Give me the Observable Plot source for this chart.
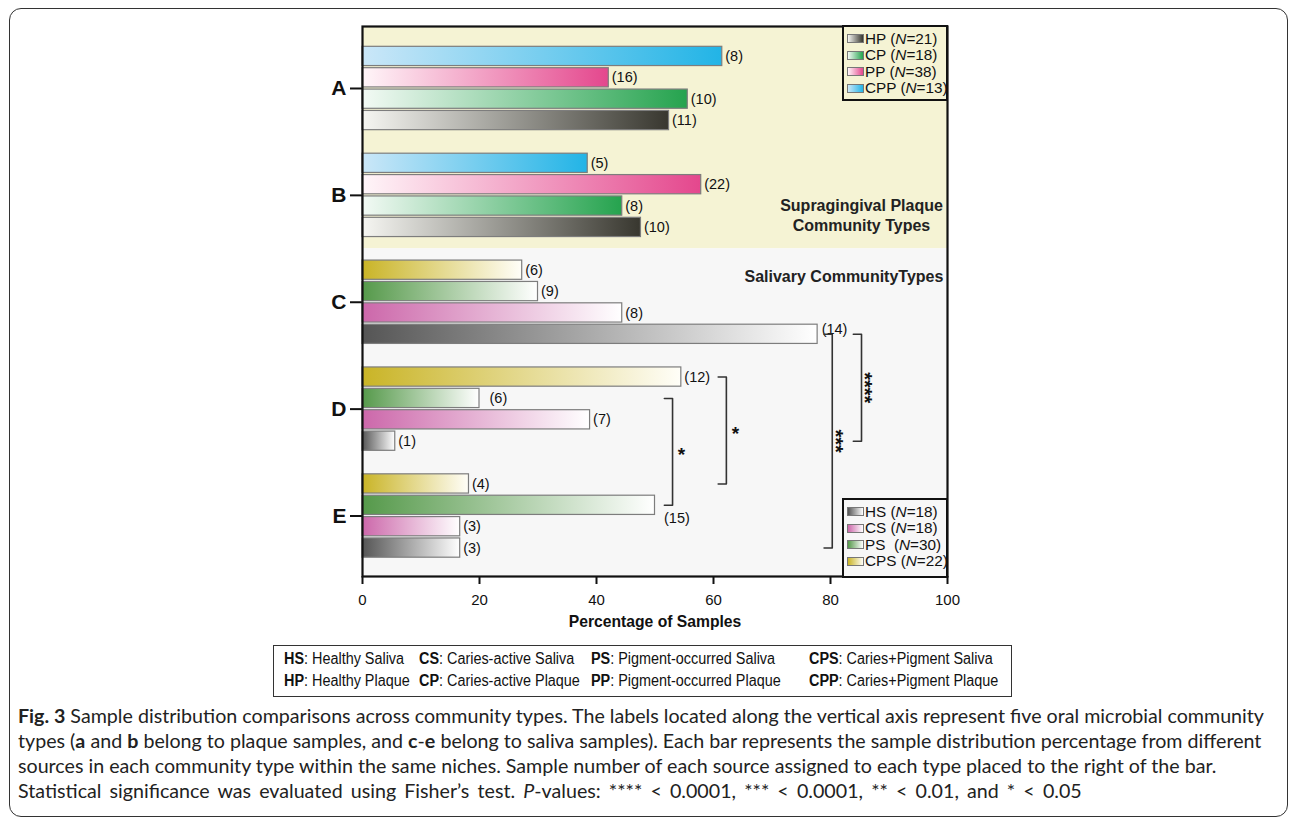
<!DOCTYPE html>
<html><head><meta charset="utf-8">
<script src="https://cdn.jsdelivr.net/npm/d3@7"></script>
<script src="https://cdn.jsdelivr.net/npm/@observablehq/plot@0.6"></script>
<style>
html,body{margin:0;padding:0;background:#fff;}
#page{position:relative;width:1290px;height:820px;overflow:hidden;font-family:"Liberation Sans",Arial,sans-serif;color:#111;}
#outer{position:absolute;left:9px;top:8px;width:1279px;height:809px;border:1.5px solid #333;border-radius:12px;box-sizing:border-box;}
#chart{position:absolute;left:0;top:0;}
.leg{position:absolute;box-sizing:border-box;border:2px solid #111;}
.leg .item{position:absolute;left:3px;height:16px;line-height:16px;font-size:15.3px;white-space:nowrap;}
.leg .sw{display:inline-block;width:17px;height:9px;border:1px solid #777;box-sizing:border-box;vertical-align:middle;margin-right:1px;position:relative;top:-1px;}
#abbr{position:absolute;left:273px;top:645px;width:739px;height:52px;border:1.5px solid #333;box-sizing:border-box;}
#abbr span.c{position:absolute;white-space:nowrap;font-family:"Liberation Sans",Arial,sans-serif;font-size:16px;line-height:20px;transform:scaleX(0.9);transform-origin:0 50%;}
#caption{position:absolute;left:18px;top:703px;font-family:Lato,"Open Sans",sans-serif;font-size:19px;line-height:25px;color:#222;transform-origin:0 0;}
#caption div{white-space:nowrap;}
#caption span{display:inline-block;}
#caption div.last span{word-spacing:3px;}
</style></head><body><div id="page">
<div id="outer"></div>
<div id="chart"></div>
<div id="abbr"></div>
<div id="caption"></div>
</div>
<script>
// ---------- data ----------
const groups = ["A", "B", "C", "D", "E"];
const plaqueSeries = ["CPP", "PP", "CP", "HP"];   // top-to-bottom order in groups A, B
const salivaSeries = ["CPS", "PS", "CS", "HS"];   // top-to-bottom order in groups C, D, E
const plaqueLegend = ["HP", "CP", "PP", "CPP"];
const plaqueN = [21, 18, 38, 13];
const salivaLegend = ["HS", "CS", "PS", "CPS"];
const salivaN = [18, 18, 30, 22];
// percentage of samples (top-to-bottom) and sample counts
const pctA = [61.5, 42.1, 55.6, 52.4];
const cntA = [8, 16, 10, 11];
const pctB = [38.5, 57.9, 44.4, 47.6];
const cntB = [5, 22, 8, 10];
const pctC = [27.3, 30.0, 44.4, 77.8];
const cntC = [6, 9, 8, 14];
const pctD = [54.5, 20.0, 38.9, 5.6];
const cntD = [12, 6, 7, 1];
const pctE = [18.2, 50.0, 16.7, 16.7];
const cntE = [4, 15, 3, 3];
const xTicks = [0, 20, 40, 60, 80, 100];
// significance comparisons (Fisher's test)
const comparisons = [
  {from: ["D", "PS"], to: ["E", "PS"], at: 53, label: "*"},
  {from: ["D", "CPS"], to: ["E", "CPS"], at: 62.2, label: "*"},
  {from: ["C", "HS"], to: ["E", "HS"], at: 80.3, label: "***"},
  {from: ["C", "HS"], to: ["D", "HS"], at: 85.3, label: "****"}
];
const abbrevRow1 = [["HS", "Healthy Saliva"], ["CS", "Caries-active Saliva"], ["PS", "Pigment-occurred Saliva"], ["CPS", "Caries+Pigment Saliva"]];
const abbrevRow2 = [["HP", "Healthy Plaque"], ["CP", "Caries-active Plaque"], ["PP", "Pigment-occurred Plaque"], ["CPP", "Caries+Pigment Plaque"]];

// ---------- styles ----------
const grad = {
  CPP: ["#cbe7f8", "#22b4e6"],
  PP:  ["#fff6f9", "#e4478d"],
  CP:  ["#f3faf5", "#25a34e"],
  HP:  ["#f6f6f2", "#38372f"],
  CPS: ["#c9b426", "#fffef8"],
  PS:  ["#55994a", "#ffffff"],
  CS:  ["#cc67aa", "#ffffff"],
  HS:  ["#555555", "#ffffff"]
};
const labelShift = {"C-HS": [1, -5], "E-PS": [6, 13], "D-PS": [7, 0]};

// ---------- build rows ----------
const pcts = [pctA, pctB, pctC, pctD, pctE];
const cnts = [cntA, cntB, cntC, cntD, cntE];
const rows = [];
groups.forEach((g, gi) => {
  const ser = gi < 2 ? plaqueSeries : salivaSeries;
  ser.forEach((s, k) => {
    rows.push({group: g, series: s, pct: pcts[gi][k], n: cnts[gi][k], row: gi * 5 + k, key: g + "-" + s});
  });
});
const rowOf = (g, s) => rows.find(d => d.group === g && d.series === s);
const groupCenters = groups.map((g, gi) => gi * 5 + 1.5);
const yDomain = [24.33, -1.4];
const plaqueEnd = 9;

const bracketPts = [];
const starsFlat = [], starsRot = [];
comparisons.forEach((c, i) => {
  const a = rowOf(...c.from), b = rowOf(...c.to);
  const tick = 1.4;
  bracketPts.push({id: i, x: c.at - tick, y: a.row}, {id: i, x: c.at, y: a.row},
                  {id: i, x: c.at, y: b.row}, {id: i, x: c.at - tick, y: b.row});
  const mid = {x: c.at, y: (a.row + b.row) / 2, label: c.label};
  (c.label.length > 1 ? starsRot : starsFlat).push(mid);
});

const barMarks = Object.keys(grad).map(s =>
  Plot.rect(rows.filter(d => d.series === s), {
    x1: 0, x2: "pct", y1: d => d.row - 0.45, y2: d => d.row + 0.45,
    fill: `url(#g-${s})`, stroke: "#7d7d7d", strokeWidth: 1.2
  })
);
const normalLabels = rows.filter(d => !labelShift[d.key]);
const labelMarks = [Plot.text(normalLabels, {x: "pct", y: "row", text: d => `(${d.n})`, textAnchor: "start", dx: 3, fontSize: 14.5})];
Object.entries(labelShift).forEach(([k, [dx, dy]]) => {
  labelMarks.push(Plot.text(rows.filter(d => d.key === k), {x: "pct", y: "row", text: d => `(${d.n})`, textAnchor: "start", dx: 3 + dx, dy, fontSize: 14.5}));
});

const chart = Plot.plot({
  width: 1290, height: 640,
  marginLeft: 362, marginRight: 343, marginTop: 26, marginBottom: 64,
  style: {fontFamily: "'Liberation Sans', Arial, sans-serif", fontSize: "14px", color: "#111", background: "transparent", overflow: "visible"},
  x: {domain: [0, 100]},
  y: {type: "linear", domain: yDomain},
  marks: [
    Plot.rect([{y1: yDomain[1], y2: plaqueEnd}], {x1: 0, x2: 100, y1: "y1", y2: "y2", fill: "#f5f3d4"}),
    Plot.rect([{y1: plaqueEnd, y2: yDomain[0]}], {x1: 0, x2: 100, y1: "y1", y2: "y2", fill: "#f7f7f7"}),
    ...barMarks,
    ...labelMarks,
    Plot.line(bracketPts, {x: "x", y: "y", z: "id", stroke: "#333", strokeWidth: 1.6}),
    Plot.text(starsFlat, {x: "x", y: "y", text: "label", dx: 9, dy: 3, fontSize: 19, fontWeight: "bold"}),
    Plot.text(starsRot, {x: "x", y: "y", text: "label", dx: 3, dy: 0, rotate: 90, fontSize: 20, fontWeight: "bold"}),
    Plot.text(["Supragingival Plaque\nCommunity Types"], {x: 85.3, y: 7.4, text: d => d, fontSize: 16, fontWeight: "bold", lineHeight: 1.25, fill: "#222"}),
    Plot.text(["Salivary CommunityTypes"], {x: 99.3, y: 10.3, text: d => d, textAnchor: "end", fontSize: 16, fontWeight: "bold", fill: "#222"}),
    Plot.frame({stroke: "#111", strokeWidth: 2.2}),
    Plot.axisX({ticks: xTicks, tickSize: 8, tickPadding: 10, strokeWidth: 2, fontSize: 15, label: null}),
    Plot.axisY({ticks: groupCenters, tickFormat: d => groups[Math.round((d - 1.5) / 5)], tickSize: 12, tickPadding: 4, strokeWidth: 2, fontSize: 21, fontWeight: "bold", label: null}),
    Plot.text(["Percentage of Samples"], {frameAnchor: "bottom", text: d => d, dy: 50, fontSize: 15.7, fontWeight: "bold"})
  ]
});
const defs = d3.select(chart).insert("defs", ":first-child");
Object.entries(grad).forEach(([s, [c0, c1]]) => {
  const lg = defs.append("linearGradient").attr("id", "g-" + s).attr("x1", 0).attr("x2", 1).attr("y1", 0).attr("y2", 0);
  lg.append("stop").attr("offset", 0).attr("stop-color", c0);
  lg.append("stop").attr("offset", 1).attr("stop-color", c1);
});
document.getElementById("chart").appendChild(chart);

// ---------- in-plot legends ----------
function legend(left, top, h, names, ns, bg, pad) {
  const box = document.createElement("div");
  box.className = "leg";
  Object.assign(box.style, {left: left + "px", top: top + "px", width: "106px", height: h + "px", background: bg});
  names.forEach((s, i) => {
    const it = document.createElement("div");
    it.className = "item";
    it.style.top = (4 + i * 16.4) + "px";
    const [c0, c1] = grad[s];
    it.innerHTML = `<span class="sw" style="background:linear-gradient(to right, ${c0}, ${c1})"></span>${s}${pad && s === "PS" ? "&nbsp;" : ""} (<i>N</i>=${ns[i]})`;
    box.appendChild(it);
  });
  document.getElementById("page").appendChild(box);
}
legend(842, 25, 76, plaqueLegend, plaqueN, "#f5f3d4", false);
legend(842, 498, 80, salivaLegend, salivaN, "#f7f7f7", true);

// ---------- abbreviation box ----------
const colX = [10, 145, 317, 535];
const abbr = document.getElementById("abbr");
[abbrevRow1, abbrevRow2].forEach((r, ri) => {
  r.forEach(([k, v], ci) => {
    const sp = document.createElement("span");
    sp.className = "c";
    sp.style.left = colX[ci] + "px";
    sp.style.top = (3 + ri * 22) + "px";
    sp.innerHTML = `<b>${k}</b>: ${v}`;
    abbr.appendChild(sp);
  });
});

// ---------- caption ----------
const captionLines = [
  "<b>Fig. 3</b> Sample distribution comparisons across community types. The labels located along the vertical axis represent five oral microbial community",
  "types (<b>a</b> and <b>b</b> belong to plaque samples, and <b>c</b>-<b>e</b> belong to saliva samples). Each bar represents the sample distribution percentage from different",
  "sources in each community type within the same niches. Sample number of each source assigned to each type placed to the right of the bar.",
  "Statistical significance was evaluated using Fisher’s test. <i>P</i>-values: **** &lt; 0.0001, *** &lt; 0.0001, ** &lt; 0.01, and * &lt; 0.05"
];
const cap = document.getElementById("caption");
cap.innerHTML = captionLines.map((l, i) => `<div${i === captionLines.length - 1 ? ' class="last"' : ''}><span>${l}</span></div>`).join("");
const w1 = cap.querySelector("span").getBoundingClientRect().width;
cap.style.transform = `scaleX(${1246 / w1})`;
</script>
</body></html>
